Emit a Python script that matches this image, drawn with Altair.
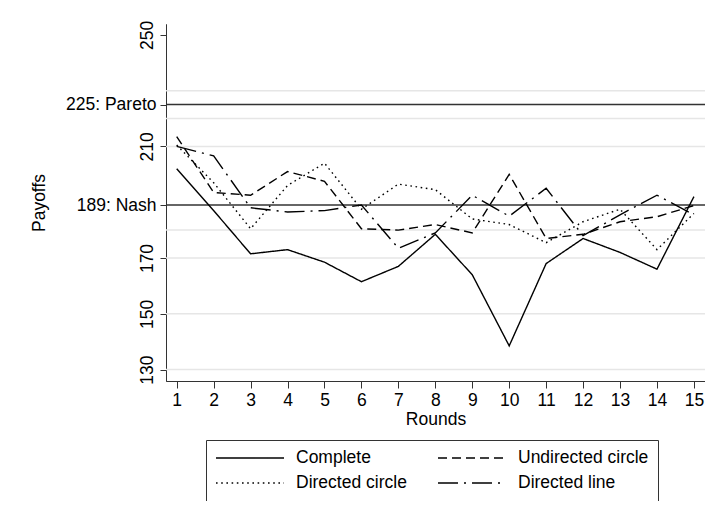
import altair as alt
import pandas as pd

rounds = list(range(1, 16))
series_names = ["Complete", "Undirected circle", "Directed circle", "Directed line"]
complete = [202, 187, 171.5, 173, 168.5, 161.5, 167, 178.5, 164, 138.5, 168, 177, 172, 166, 192]
undirected_circle = [213.5, 193.5, 192.5, 201, 197.5, 180.5, 180, 182, 179, 200, 177, 178.5, 183, 184.8, 188.8]
directed_circle = [210.5, 197, 180.5, 196, 204, 187.5, 196.5, 194.5, 184, 182, 175.5, 183, 187.5, 173, 186]
directed_line = [210, 206.6, 188, 186.5, 187, 189, 173.5, 179, 192.5, 185, 195, 178, 185.5, 192.5, 185.5]

y_tick_values = [130, 150, 170, 210, 250]
ref_values = [189, 225]
ref_names = ["Nash", "Pareto"]
grid_values = [130, 150, 170, 180, 210, 220, 230]

dash_patterns = [[1, 0], [9, 5], [1.6, 3.6], [20, 6, 2, 6]]

FONT = "Liberation Sans"
FS = 17.5

rows = []
for name, vals in zip(series_names, [complete, undirected_circle, directed_circle, directed_line]):
    for r, v in zip(rounds, vals):
        rows.append({"Round": r, "Payoff": v, "Series": name})
df = pd.DataFrame(rows)

ref_df = pd.DataFrame({"y": ref_values, "name": ref_names})
grid_df = pd.DataFrame({"y": grid_values})

y_scale = alt.Scale(domain=[125.9, 253.9], nice=False, zero=False)
x_scale = alt.Scale(domain=[0.71, 15.3], nice=False, zero=False)

label_expr = " : ".join(
    [f"datum.value == {v} ? '{v}: {n}'" for v, n in zip(ref_values, ref_names)] + ["datum.label"]
)

common_axis = dict(
    orient="left",
    grid=False,
    tickSize=6,
    labelPadding=4,
    labelFont=FONT,
    labelFontSize=FS,
    labelColor="black",
    domainColor="#333333",
    tickColor="#333333",
)

y_axis_num = alt.Axis(values=y_tick_values, labelAngle=-90, title=None, **common_axis)
y_axis_ref = alt.Axis(
    values=ref_values,
    labelExpr=label_expr,
    labelAngle=0,
    title="Payoffs",
    titleFont=FONT,
    titleFontSize=FS,
    titleFontWeight="normal",
    titleColor="black",
    titlePadding=17,
    **common_axis,
)

x_axis = alt.Axis(
    values=rounds,
    labelAngle=0,
    grid=False,
    tickSize=7,
    labelPadding=3,
    labelFont=FONT,
    labelFontSize=FS,
    labelColor="black",
    title="Rounds",
    titleFont=FONT,
    titleFontSize=FS,
    titleFontWeight="normal",
    titleColor="black",
    titlePadding=2,
    domainColor="#333333",
    tickColor="#333333",
)

grid = alt.Chart(grid_df).mark_rule(color="#e6e6e6", strokeWidth=1.5).encode(
    y=alt.Y("y:Q", scale=y_scale, axis=y_axis_num)
)

refs = alt.Chart(ref_df).mark_rule(color="#333333", strokeWidth=1.5).encode(
    y=alt.Y("y:Q", scale=y_scale, axis=y_axis_ref)
)

lines = alt.Chart(df).mark_line(color="black", strokeWidth=1.4).encode(
    x=alt.X("Round:Q", scale=x_scale, axis=x_axis),
    y=alt.Y("Payoff:Q", scale=y_scale, axis=None),
    strokeDash=alt.StrokeDash(
        "Series:N",
        scale=alt.Scale(domain=series_names, range=dash_patterns),
        sort=series_names,
        legend=alt.Legend(
            title=None,
            orient="none",
            legendX=40,
            legendY=416,
            columns=2,
            direction="horizontal",
            columnPadding=30,
            rowPadding=7,
            padding=9,
            clipHeight=18,
            strokeColor="#333333",
            symbolType="stroke",
            symbolSize=4624,
            symbolStrokeColor="black",
            symbolStrokeWidth=1.3,
            labelFont=FONT,
            labelFontSize=FS,
            labelColor="black",
            labelOffset=11,
            labelLimit=300,
        ),
    ),
)

chart = (
    alt.layer(grid, refs, lines)
    .resolve_axis(y="independent")
    .properties(
        width=539,
        height=357,
        autosize=alt.AutoSizeParams(type="none"),
        padding={"left": 158, "top": 16, "right": 0, "bottom": 120},
        background="white",
    )
    .configure_view(stroke=None)
)

chart.save("out.html", embed_options={"renderer": "svg", "actions": False})
